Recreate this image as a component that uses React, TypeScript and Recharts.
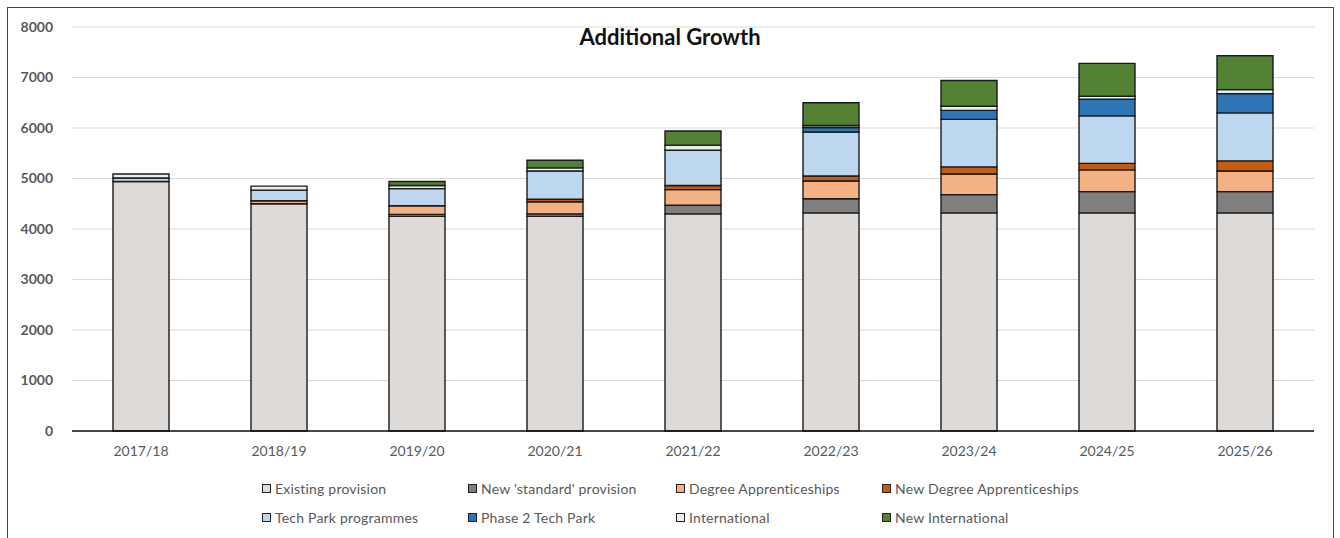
import React from 'react';
import { BarChart, Bar, XAxis, YAxis, CartesianGrid, Legend } from 'recharts';

const years = ['2017/18', '2018/19', '2019/20', '2020/21', '2021/22', '2022/23', '2023/24', '2024/25', '2025/26'];

const existing = [4940, 4500, 4250, 4250, 4300, 4320, 4320, 4320, 4320];
const newStandard = [0, 0, 40, 50, 170, 280, 360, 420, 420];
const degree = [0, 60, 170, 240, 310, 350, 410, 430, 410];
const newDegree = [0, 0, 0, 50, 80, 100, 140, 130, 200];
const techPark = [70, 210, 340, 560, 700, 870, 940, 940, 950];
const phase2 = [0, 0, 0, 0, 0, 90, 180, 330, 380];
const international = [80, 80, 60, 60, 100, 40, 80, 60, 80];
const newInternational = [0, 0, 80, 150, 280, 450, 510, 650, 670];

const yTicks = [0, 1000, 2000, 3000, 4000, 5000, 6000, 7000, 8000];

const series = [
  { key: 'existing', name: 'Existing provision', values: existing, color: '#dedad7' },
  { key: 'newStandard', name: "New 'standard' provision", values: newStandard, color: '#7f7f7f' },
  { key: 'degree', name: 'Degree Apprenticeships', values: degree, color: '#f4b183' },
  { key: 'newDegree', name: 'New Degree Apprenticeships', values: newDegree, color: '#c55a11' },
  { key: 'techPark', name: 'Tech Park programmes', values: techPark, color: '#bdd7ee' },
  { key: 'phase2', name: 'Phase 2 Tech Park', values: phase2, color: '#2e75b6' },
  { key: 'international', name: 'International', values: international, color: '#e8eef0' },
  { key: 'newInternational', name: 'New International', values: newInternational, color: '#548235' },
];

const data = years.map((year, i) => {
  const row: Record<string, string | number> = { year };
  series.forEach((s) => {
    row[s.key] = s.values[i];
  });
  return row;
});

const legendCols = [262, 468, 676, 882];

function renderLegend() {
  return (
    <div style={{ position: 'relative', width: 1340, height: 60 }}>
      {series.map((s, i) => (
        <div
          key={s.key}
          style={{
            position: 'absolute',
            left: legendCols[i % 4],
            top: Math.floor(i / 4) * 29,
            display: 'flex',
            alignItems: 'center',
            fontSize: 14,
            letterSpacing: 0.2,
            color: '#595959',
            whiteSpace: 'nowrap',
          }}
        >
          <span
            style={{
              display: 'inline-block',
              width: 7,
              height: 7,
              background: s.color,
              border: '1.5px solid #222',
              marginRight: 4,
            }}
          />
          {s.name}
        </div>
      ))}
    </div>
  );
}

export default function App() {
  return (
    <div
      style={{
        position: 'absolute',
        left: 0,
        top: 0,
        width: 1340,
        height: 538,
        background: '#fff',
        fontFamily: 'Lato, sans-serif',
        overflow: 'hidden',
      }}
    >
      <div
        style={{
          position: 'absolute',
          left: 7,
          top: 7,
          width: 1325,
          height: 560,
          border: '1.5px solid #444',
        }}
      />
      <div
        style={{
          position: 'absolute',
          left: 0,
          top: 23,
          width: 1340,
          textAlign: 'center',
          fontSize: 22,
          fontWeight: 700,
          color: '#111',
          zIndex: 1,
        }}
      >
        Additional Growth
      </div>
      <BarChart
        width={1340}
        height={538}
        data={data}
        margin={{ top: 27, right: 26, bottom: 77, left: 0 }}
        style={{ position: 'absolute', left: 0, top: 0 }}
      >
        <CartesianGrid vertical={false} stroke="#d9d9d9" strokeWidth={1.2} />
        <XAxis
          dataKey="year"
          height={30}
          axisLine={{ stroke: '#111', strokeWidth: 1.5 }}
          tickLine={false}
          tickSize={0}
          tickMargin={15}
          tick={{ fontSize: 14, fill: '#595959' }}
        />
        <YAxis
          width={72}
          domain={[0, 8000]}
          ticks={yTicks}
          axisLine={false}
          tickLine={false}
          tickSize={0}
          tickMargin={19}
          tick={{ fontSize: 14, fill: '#595959', fontWeight: 700 }}
        />
        <Legend
          layout="horizontal"
          verticalAlign="middle"
          align="center"
          wrapperStyle={{ left: 0, top: 480, width: 1340 }}
          content={renderLegend}
        />
        {series.map((s) => (
          <Bar
            key={s.key}
            dataKey={s.key}
            name={s.name}
            stackId="a"
            fill={s.color}
            stroke="#1b1b1b"
            strokeWidth={1.4}
            barSize={56}
            isAnimationActive={false}
          />
        ))}
      </BarChart>
    </div>
  );
}
